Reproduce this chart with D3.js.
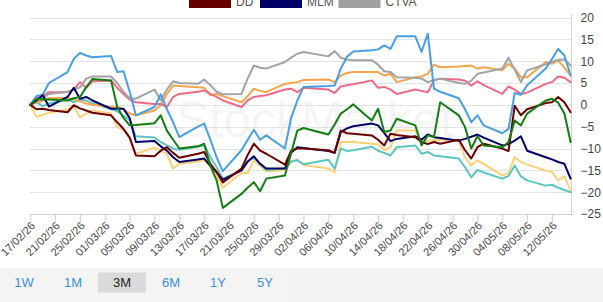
<!DOCTYPE html>
<html><head><meta charset="utf-8">
<script src="https://cdn.jsdelivr.net/npm/d3@7"></script>
<style>
html,body{margin:0;padding:0;background:#fff;}
svg{display:block;font-family:"Liberation Sans",Arial,sans-serif;}
</style></head>
<body><svg id="c" width="603" height="302"></svg>
<script>
const dates = ["2026-02-17","2026-02-18","2026-02-19","2026-02-20","2026-02-23","2026-02-24","2026-02-25","2026-02-26","2026-02-27",
"2026-03-02","2026-03-03","2026-03-04","2026-03-05","2026-03-06","2026-03-09","2026-03-10","2026-03-11","2026-03-12","2026-03-13","2026-03-16","2026-03-17","2026-03-18","2026-03-19","2026-03-20","2026-03-23","2026-03-24","2026-03-25","2026-03-26","2026-03-27","2026-03-30","2026-03-31",
"2026-04-01","2026-04-02","2026-04-06","2026-04-07","2026-04-08","2026-04-09","2026-04-10","2026-04-13","2026-04-14","2026-04-15","2026-04-16","2026-04-17","2026-04-20","2026-04-21","2026-04-22","2026-04-23","2026-04-24","2026-04-27","2026-04-28","2026-04-29","2026-04-30",
"2026-05-01","2026-05-04","2026-05-05","2026-05-06","2026-05-07","2026-05-08","2026-05-11","2026-05-12","2026-05-13","2026-05-14","2026-05-15"];

const seriesDD = [0,-1,-0.9,-1.2,-1.7,-0.1,-0.8,-1.3,-1.8,
 -2.4,-4,-5.5,-7.5,-11.6,-11.8,-10.5,-9.7,-11,-12.1,-11.2,-10.8,-13.5,-15.4,-17.8,-14.6,-11.5,-8.9,-10.5,-11.2,-13.7,-10.5,
 -10,-10,-10.4,-11,-5.9,-6.5,-6.6,-7,-8,-9.3,-6.6,-6.9,-7.4,-8.5,-9,-8.5,-8.9,-8,-10.4,-12.3,-9.7,
 -8.9,-10,-10.6,-0.2,-2.4,-1,0.4,0.6,1.8,0.6,-1.7];
const seriesMLM = [0,1,2.2,-0.4,1.8,3.9,1.4,1.8,1,
 -0.9,-0.9,-0.9,-3,-8.5,-8.3,-9.5,-10.5,-12,-13.1,-12.5,-12.3,-14,-15.4,-17.2,-15,-13,-11.8,-13.5,-14.6,-14.6,-11,
 -9.7,-9.9,-10.6,-11,-6.2,-5.4,-4.9,-4.3,-4.7,-6.5,-8.3,-7.8,-7.2,-8,-6.8,-7.4,-7.6,-8.2,-7.8,-7.3,-6.8,
 -7.5,-9.3,-9,-8.2,-7.2,-10.5,-12,-12.5,-13.1,-13.5,-16.9];
const seriesCTVA = [0,1,1.5,2.5,3,3.5,4,6,6.5,
 6.5,5,3,1.5,1.4,3.5,1,3.5,5.4,5,4.8,5.8,4.5,3,2.4,2.5,6,9,8.5,8.3,9.8,10.8,
 11.7,12.1,11.1,12.3,10.8,10.4,10.2,10.2,9.2,7.7,7.5,6.3,6.2,6,5.2,5.7,6,5,4.8,5.5,7.1,
 7.4,8.3,10.8,8,5.2,7.9,9.3,9.8,10.3,10.4,9];
const seriesBlue = [0,2,2.3,5,7.5,10.5,11.9,11.3,10.9,
 11.2,7.5,7.7,3,-2.4,-0.5,2.4,-1,-4,-7.4,-5,-4.3,-8,-12,-15.2,-10.4,-8,-5.7,-8,-7,-10,-3,
 1,4.1,4.3,4.4,8.3,11,12.2,12.5,12.7,13.6,12.8,15.7,15.7,12.1,16.3,3.7,3,1.5,-1,-4,-2.4,
 -4.7,-6.5,-5.5,2.7,2.3,4.5,8.3,10.5,12.8,11.3,6.7];
const seriesOrange = [0,0.5,1,1.5,1.6,1.2,0.8,0.3,0,
 -0.5,-0.5,-1,-2,-2.4,-1.3,-0.1,2.5,4.4,4.3,4,3.9,2.2,2.5,2,0.6,2,3.7,3.2,2.9,4.8,5,
 5.2,5.7,5.8,5.2,6.7,7.3,7.5,7.5,7.5,6.7,7.1,5.2,6.3,6.5,7.1,9.2,8.6,8.8,8.9,9,8.3,
 8.6,7.9,9.4,8.3,6.3,6.3,9.8,9.4,10.2,8.5,6.7];
const seriesPink = [0,1.5,2,2.9,2.9,3.5,5.2,3.9,5.4,
 5.6,3.9,2.5,1.2,0.6,0.2,0.2,-0.5,1.8,2.5,3,3.3,2.5,1.8,1,-0.5,1,1.8,2,2.2,3.5,3.7,
 2.9,3.9,3.5,2.7,4.2,4.5,4.7,5.6,3.9,4.1,3.5,2.5,3.5,3.2,2.9,5.6,6,5.8,5.5,4.4,5.4,
 4.5,2.5,4.2,3.5,2.5,2.8,4.8,5.2,6.5,6.2,5.2];
const seriesGreen = [0,1.4,1.2,1.2,1,1.5,1.8,4,5.9,
 5.6,-0.5,-3,-4.7,-4.6,-4.2,-2.4,-5.9,-8,-10,-9.5,-8.9,-14,-17.3,-23.6,-20.4,-19,-17.7,-19.8,-16.9,-16.2,-11,
 -5.9,-5.3,-6.8,-4.5,-2,-1,0.1,-3.6,-0.9,-6.2,-5.9,-3.2,-4.7,-9.3,-7,-7.4,0.6,-2.4,-5.1,-10,-7.2,
 -9.3,-9.7,-8.5,-3.6,-4.7,-2,1,1.4,0.5,-2,-8.5];
const seriesTeal = [0,0.6,-0.3,0.3,1.2,0.6,1.2,1,0.3,
 -0.9,-1.5,-2.5,-3.5,-7.2,-7.5,-8.5,-9.3,-10,-10.3,-9.6,-9.3,-12,-14.3,-16.9,-15,-13,-12.1,-13.5,-14.9,-14.6,-13,
 -12.7,-13.6,-12.6,-14.6,-10,-10.6,-10.4,-9.6,-10.5,-11,-11.6,-9.7,-9.3,-11.2,-10.8,-11.6,-11.8,-12.3,-14.3,-16.6,-14.9,
 -15.5,-16.9,-16.3,-13.9,-16.4,-17.3,-18.5,-18.3,-19,-19.5,-20];
const seriesYellow = [0,-2.8,-2.3,-1.8,-1,-0.5,-2.8,-2,-1.3,
 -2,-5.1,-5.8,-7.5,-11.2,-9.8,-10.5,-11.2,-14.6,-13.5,-13,-12.7,-14,-16.2,-19,-15.6,-15.6,-12.7,-14,-15.2,-15,-13,
 -12.5,-13.8,-14.6,-15.4,-8.5,-8.5,-8.5,-8.9,-9,-10.4,-9.7,-5.9,-5.9,-8.9,-8.2,-8.1,-8,-8.2,-12,-13.9,-12.7,
 -13.5,-16.2,-15.6,-12,-13.1,-13.7,-15,-15.4,-17.3,-16.4,-19.6];

const xTickLabels = ["17/02/26","21/02/26","25/02/26","01/03/26","05/03/26","09/03/26","13/03/26","17/03/26","21/03/26","25/03/26","29/03/26","02/04/26","06/04/26","10/04/26","14/04/26","18/04/26","22/04/26","26/04/26","30/04/26","04/05/26","08/05/26","12/05/26"];
const yTicks = [20,15,10,5,0,-5,-10,-15,-20,-25];
const legendNames = ["DD","MLM","CTVA"];
const rangeButtons = ["1W","1M","3M","6M","1Y","5Y"];
const activeRange = "3M";

const parseISO = d3.utcParse("%Y-%m-%d");
const parseTick = d3.utcParse("%d/%m/%y");
const T = dates.map(parseISO);

const series = [
  {name:"Yellow", values:seriesYellow, color:"#fdd179"},
  {name:"Teal", values:seriesTeal, color:"#5cc5c4"},
  {name:"Orange", values:seriesOrange, color:"#f6a44e"},
  {name:"Pink", values:seriesPink, color:"#ee6a86"},
  {name:"CTVA", values:seriesCTVA, color:"#a3a3a3"},
  {name:"Blue", values:seriesBlue, color:"#4a9fe3"},
  {name:"MLM", values:seriesMLM, color:"#000068"},
  {name:"DD", values:seriesDD, color:"#6b0000"},
  {name:"Green", values:seriesGreen, color:"#137d13"}
];
const legendColors = {DD:"#660000", MLM:"#000066", CTVA:"#a0a0a0"};

const svg = d3.select("#c");
const x = d3.scaleUtc().domain([T[0], T[T.length-1]]).range([30.3, 570.6]);
const y = d3.scaleLinear().domain([-25, 20]).range([214, 17.5]);

// bottom bar
svg.append("rect").attr("x",0).attr("y",268).attr("width",603).attr("height",34).attr("fill","#f2f2f2");
svg.append("rect").attr("x",0).attr("y",268).attr("width",288).attr("height",34).attr("fill","#f4f4f4");

// watermark
svg.append("text").attr("x",176).attr("y",137).attr("font-size",50).attr("fill","#000").attr("fill-opacity",0.045)
  .attr("font-family","Liberation Sans, Arial").text("StockMarket");

// grid
svg.append("g").selectAll("line").data(yTicks.filter(v=>v!==-25)).join("line")
  .attr("x1",30).attr("x2",571).attr("y1",d=>Math.round(y(d))+0.5).attr("y2",d=>Math.round(y(d))+0.5)
  .attr("stroke","#e3e3e3").attr("stroke-width",1);

// y axis (right)
const yAxis = svg.append("g").attr("transform","translate(571.5,0)")
  .call(d3.axisRight(y).tickValues(yTicks).tickSize(0).tickPadding(9).tickFormat(d3.format("d")));
yAxis.select(".domain").attr("stroke","#d0d0d0").attr("d","M0,14V214");
yAxis.selectAll("text").attr("font-size",12).attr("fill","#444").attr("font-family","Liberation Sans, Arial");

// x axis
const xAxis = svg.append("g").attr("transform","translate(0,214.5)")
  .call(d3.axisBottom(x).tickValues(xTickLabels.map(parseTick)).tickSize(7).tickFormat(d3.utcFormat("%d/%m/%y")));
xAxis.select(".domain").attr("stroke","#cfcfcf").attr("d","M30,0H573");
xAxis.selectAll(".tick line").attr("stroke","#cfcfcf");
xAxis.selectAll("text").attr("font-size",11).attr("fill","#444").attr("font-family","Liberation Sans, Arial")
  .attr("text-anchor","end").attr("dy",0).attr("y",0)
  .attr("transform","translate(5,12) rotate(-45)");

// lines
const line = d3.line().x((d,i)=>x(T[i])).y(d=>y(d)).curve(d3.curveLinear);
svg.append("g").selectAll("path").data(series).join("path")
  .attr("d",d=>line(d.values)).attr("fill","none").attr("stroke",d=>d.color)
  .attr("stroke-width",2).attr("stroke-linejoin","round").attr("stroke-linecap","round");

// legend (top rows cut off)
const lx = [189, 260, 338.5];
const lg = svg.append("g").selectAll("g").data(legendNames).join("g")
  .attr("transform",(d,i)=>`translate(${lx[i]},0)`);
lg.append("rect").attr("x",0).attr("y",-5).attr("width",42).attr("height",13).attr("fill",d=>legendColors[d]);
lg.append("text").attr("x",47).attr("y",6).attr("font-size",12).attr("fill","#555")
  .attr("font-family","Liberation Sans, Arial").text(d=>d);

// range buttons
const bx = [24, 73, 122, 171, 218, 265];
const bg = svg.append("g").selectAll("g").data(rangeButtons).join("g")
  .attr("transform",(d,i)=>`translate(${bx[i]},0)`);
bg.filter(d=>d===activeRange).append("rect").attr("x",-24).attr("y",272.5).attr("width",48).attr("height",20).attr("fill","#dadada");
bg.append("text").attr("x",0).attr("y",287).attr("text-anchor","middle").attr("font-size",13)
  .attr("font-family","Liberation Sans, Arial")
  .attr("fill",d=>d===activeRange?"#222":"#3b8fe0").text(d=>d);
</script></body></html>
